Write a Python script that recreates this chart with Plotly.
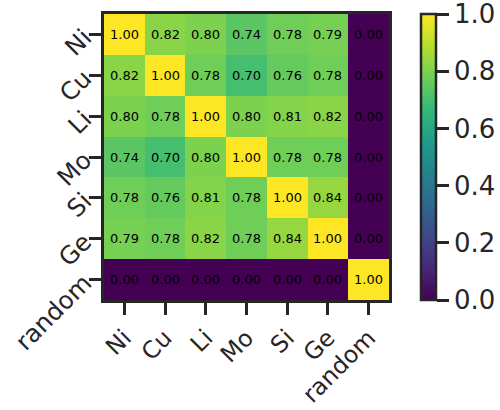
import plotly.graph_objects as go

labels = ["Ni", "Cu", "Li", "Mo", "Si", "Ge", "random"]
row_Ni = [1.00, 0.82, 0.80, 0.74, 0.78, 0.79, 0.00]
row_Cu = [0.82, 1.00, 0.78, 0.70, 0.76, 0.78, 0.00]
row_Li = [0.80, 0.78, 1.00, 0.80, 0.81, 0.82, 0.00]
row_Mo = [0.74, 0.70, 0.80, 1.00, 0.78, 0.78, 0.00]
row_Si = [0.78, 0.76, 0.81, 0.78, 1.00, 0.84, 0.00]
row_Ge = [0.79, 0.78, 0.82, 0.78, 0.84, 1.00, 0.00]
row_random = [0.00, 0.00, 0.00, 0.00, 0.00, 0.00, 1.00]
z = [row_Ni, row_Cu, row_Li, row_Mo, row_Si, row_Ge, row_random]

dark = "#262626"
W, H = 500, 410
L, T, B = 104, 14, 110
area_w = W - L
plot_w = 389 - L

fig = go.Figure(go.Heatmap(
    z=z, x=labels, y=labels,
    colorscale="Viridis", zmin=0, zmax=1,
    colorbar=dict(
        x=(421 - L) / area_w, xanchor="left", xpad=0, ypad=0,
        y=0.5, yanchor="middle", len=1.0, lenmode="fraction",
        thickness=15, thicknessmode="pixels",
        outlinewidth=2.5, outlinecolor=dark,
        ticks="outside", ticklen=12, tickwidth=2.5, tickcolor=dark,
        tickvals=[0, 0.2, 0.4, 0.6, 0.8, 1.0], tickformat=".1f",
        ticklabeloverflow="allow",
        tickfont=dict(size=26, color=dark, family="DejaVu Sans"),
    ),
))

for i, row_label in enumerate(labels):
    for j, col_label in enumerate(labels):
        fig.add_annotation(
            x=col_label, y=row_label, text=f"{z[i][j]:.2f}",
            showarrow=False,
            font=dict(size=13, color="black", family="DejaVu Sans"),
        )

axis_common = dict(
    showline=True, mirror=True, linewidth=2.5, linecolor=dark,
    ticks="outside", ticklen=12, tickwidth=2.5, tickcolor=dark,
    tickangle=-45, showgrid=False, zeroline=False, automargin=False,
)
fig.update_xaxes(**axis_common, domain=[0, plot_w / area_w],
                 tickfont=dict(size=23.5, color=dark, family="DejaVu Sans"))
fig.update_yaxes(**axis_common, autorange="reversed",
                 tickfont=dict(size=24.5, color=dark, family="DejaVu Sans"))

fig.update_layout(
    width=W, height=H,
    margin=dict(l=L, r=0, t=T, b=B),
    paper_bgcolor="white", plot_bgcolor="white",
    font=dict(family="DejaVu Sans", color=dark),
)
fig.write_html("out.html")
